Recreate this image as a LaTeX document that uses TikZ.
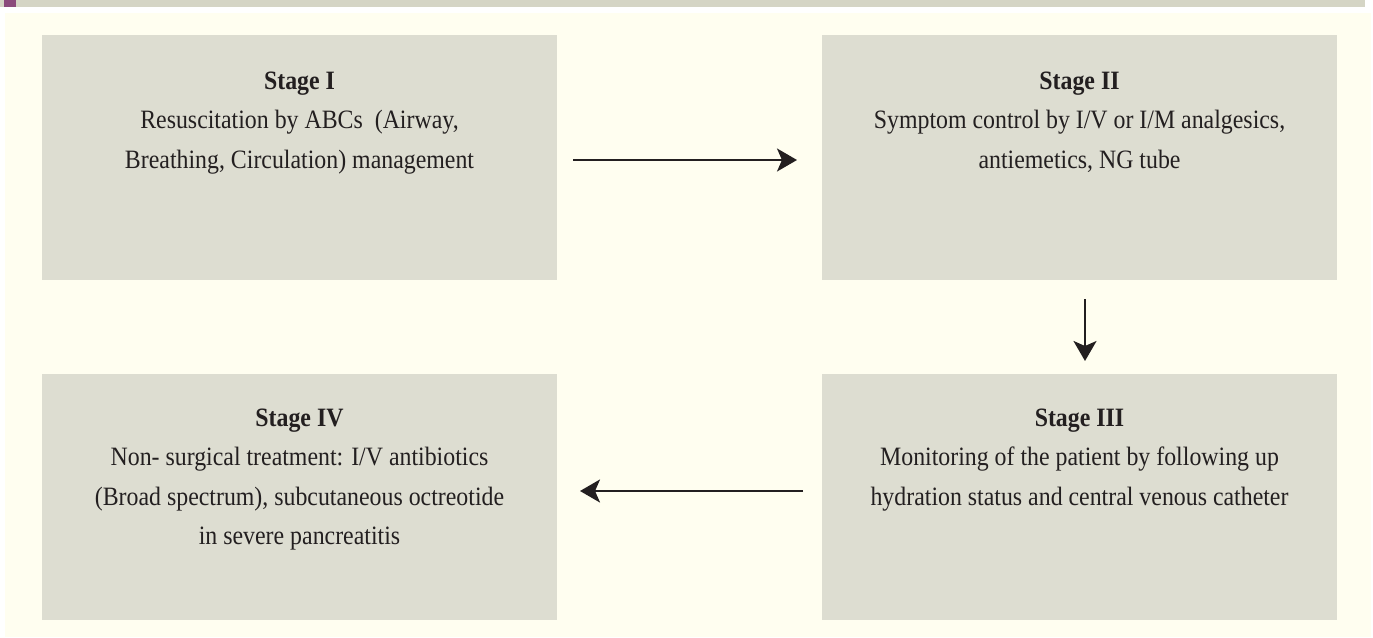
\documentclass[tikz,border=0pt]{standalone}
\usepackage{fontspec}
\setmainfont{Liberation Serif}[FakeStretch=0.9]
\usetikzlibrary{arrows.meta}
\definecolor{barcol}{HTML}{D5D5C5}
\definecolor{purp}{HTML}{8B4A7C}
\definecolor{cream}{HTML}{FFFEF0}
\definecolor{boxcol}{HTML}{DDDDD1}
\definecolor{ink}{HTML}{231F20}
\tikzset{
  stagebox/.style={fill=boxcol, draw=none, minimum width=515pt, inner sep=0pt, outer sep=0pt},
  stagetext/.style={anchor=north, inner sep=0pt, align=center, text=ink,
    font=\fontsize{26.5}{39.5}\selectfont},
  arr/.style={draw=ink, line width=2.3pt, -{Stealth[length=20pt, width=23pt, inset=5pt]}}
}
\begin{document}
\begin{tikzpicture}[x=1pt, y=-1pt]
\useasboundingbox (0,0) rectangle (1373,637);
\fill[white] (0,0) rectangle (1373,637);
\fill[barcol] (0,0) rectangle (1365,7);
\fill[purp] (4,0) rectangle (16,7);
\fill[cream] (5,13) rectangle (1371,637);

\node[stagebox, minimum height=245pt, anchor=north west] (b1) at (42,35) {};
\node[stagebox, minimum height=245pt, anchor=north west] (b2) at (822,35) {};
\node[stagebox, minimum height=246pt, anchor=north west] (b3) at (822,374) {};
\node[stagebox, minimum height=246pt, anchor=north west] (b4) at (42,374) {};

\node[stagetext] (t1) at (299.5,61.35) {\strut\textbf{Stage I}\\Resuscitation by ABCs\ \ (Airway,\\Breathing, Circulation) management};
\node[stagetext] (t2) at (1079.5,61.35) {\strut\textbf{Stage II}\\Symptom control by I/V or I/M analgesics,\\antiemetics, NG tube};
\node[stagetext] (t3) at (1079.5,398.35) {\strut\textbf{Stage III}\\Monitoring of the patient by following up\\hydration status and central venous catheter};
\node[stagetext] (t4) at (299.5,398.35) {\strut\textbf{Stage IV}\\Non- surgical treatment: I/V antibiotics\\(Broad spectrum), subcutaneous octreotide\\in severe pancreatitis};

\draw[arr, shorten <=16pt, shorten >=25pt] ([yshift=-2.5pt]b1.east) -- ([yshift=-2.5pt]b2.west);
\draw[arr, shorten <=19pt, shorten >=13pt] ([xshift=5.5pt]b2.south) -- ([xshift=5.5pt]b3.north);
\draw[arr, shorten <=19pt, shorten >=23pt] ([yshift=6pt]b3.west) -- ([yshift=6pt]b4.east);
\end{tikzpicture}
\end{document}
